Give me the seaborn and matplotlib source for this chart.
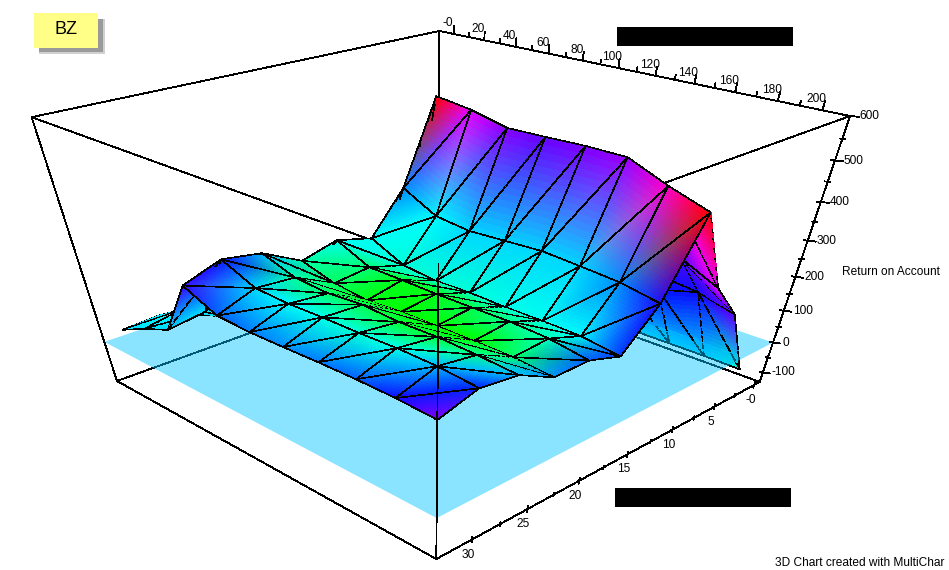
import numpy as np
import matplotlib
matplotlib.use("Agg")
import matplotlib.pyplot as plt
import matplotlib.tri as mtri
import seaborn as sns
from matplotlib.patches import Rectangle
from mpl_toolkits.mplot3d import proj3d
from mpl_toolkits.mplot3d.art3d import Poly3DCollection

# %% data
x_nodes = [12, 32, 52, 72, 92, 112, 132, 152, 172, 192, 212]
y_nodes = [33, 30, 27, 24, 21, 18, 15, 12, 9, 6, 3]

# Return on Account, one row per y node
z_rows = [
    [82, 124, 160, 317, 276, 272, 274, 277, 278, 277, 271],
    [88, 142, 174, 350, 311, 307, 310, 310, 313, 311, 302],
    [80, 90, 110, 334, 304, 298, 305, 299, 301, 297, 290],
    [80, 90, 110, 282, 255, 244, 250, 251, 251, 250, 241],
    [80, 90, 110, 306, 265, 264, 262, 262, 263, 258, 242],
    [80, 90, 110, 281, 238, 228, 230, 227, 227, 225, 211],
    [80, 90, 110, 387, 341, 331, 336, 341, 335, 328, 310],
    [80, 90, 110, 588, 577, 557, 559, 562, 561, 524, 493],
    [60, 80, 100, 260, 260, 260, 260, 260, 270, 323, 279],
    [40, 60, 80, 160, 160, 160, 160, 160, 170, 198, 171],
    [-35, -35, -35, -35, -35, -35, -35, -35, -35, -35, -37],
]

# colour of each node, position in the palette below
level_rows = [
    [.42, .40, .42, .68, .55, .52, .50, .52, .55, .64, .75],
    [.40, .38, .40, .64, .42, .38, .33, .30, .33, .45, .60],
    [.42, .42, .45, .45, .20, .10, .08, .05, .05, .15, .45],
    [.45, .45, .45, .20, .10, .02, .00, .00, .00, .10, .50],
    [.45, .45, .45, .35, .12, .03, .02, .08, .15, .25, .55],
    [.45, .45, .45, .35, .30, .30, .30, .33, .35, .38, .58],
    [.45, .45, .45, .50, .38, .42, .42, .42, .42, .50, .65],
    [.70, .70, .80, 1.0, .85, .76, .73, .75, .78, .90, 1.0],
    [.65, .65, .65, .65, .65, .65, .65, .65, .66, .70, .85],
    [.62, .62, .62, .62, .62, .62, .62, .62, .62, .64, .72],
    [.42, .42, .42, .42, .42, .42, .42, .42, .42, .42, .30],
]
palette_stops = ['#00ff00', '#00ff80', '#00ffc0', '#00ffff', '#0090ff',
                 '#0010ff', '#7a00ff', '#ff00ff', '#ff0000']

x_lim = (-10, 212)
y_lim = (-0.7, 33)
z_lim = (-133, 600)
x_ticks = list(range(0, 201, 20))
y_ticks = list(range(0, 31, 5))
z_ticks = list(range(-100, 601, 100))
x_labels = ['-0'] + [str(v) for v in x_ticks[1:]]
y_labels = ['-0'] + [str(v) for v in y_ticks[1:]]
z_labels = [str(v) for v in z_ticks]

# where the box corners sit in the image, the chart's camera is not a plain elev/azim one
corner_pixels = {
    (0, 0, 1): (440, 30), (1, 0, 1): (850, 117), (0, 1, 1): (32, 117), (1, 1, 1): (437, 265),
    (0, 0, 0): (437, 267), (1, 0, 0): (760, 380), (0, 1, 0): (117, 380), (1, 1, 0): (437, 560),
}

# %% figure
sns.set_theme(style="white")
plt.rcParams['font.family'] = ['Liberation Sans', 'DejaVu Sans']
plt.rcParams['text.color'] = 'black'
FS = 8.6
W, H = 949, 570

fig = plt.figure(figsize=(W / 100, H / 100), dpi=100)
ax = fig.add_axes([-25 / W, -215 / H, 1000 / W, 1000 / H], projection='3d', computed_zorder=False)
ax.set_axis_off()
ax.apply_aspect()

# camera: fit a projective matrix on the 8 box corners
rows = []
for (a, b, c), (px, py) in corner_pixels.items():
    x, y, z = x_lim[a], y_lim[b], z_lim[c]
    u, v = ax.transData.inverted().transform((px, H - py))
    rows.append([x, y, z, 1, 0, 0, 0, 0, -u * x, -u * y, -u * z, -u])
    rows.append([0, 0, 0, 0, x, y, z, 1, -v * x, -v * y, -v * z, -v])
P = np.linalg.svd(np.array(rows, float))[2][-1].reshape(3, 4)
P = P / (P[2] @ [100, 16, 230, 1])
M = np.vstack([P[:2], [0, 0, 0, -1], P[2]])  # third row gives depth, far = large
ax.get_proj = lambda: M
ax.M = M
cam = np.linalg.svd(P)[2][-1]
cam = cam[:3] / cam[3]

# %% surface, colours run linearly between nodes like the original
cmap = sns.blend_palette(palette_stops, as_cmap=True)
xx, yy = np.meshgrid(x_nodes, y_nodes)
zz = np.array(z_rows, float)
rgb = cmap(np.array(level_rows))[:, :, :3]
nx, ny = len(x_nodes), len(y_nodes)
triangles = []
for j in range(ny - 1):
    for i in range(nx - 1):
        n = j * nx + i
        triangles.append([n, n + 1, n + nx + 1])
        triangles.append([n, n + nx + 1, n + nx])
tri = mtri.Triangulation(xx.ravel(), yy.ravel(), np.array(triangles))
refiner = mtri.UniformTriRefiner(tri)


def refine(values):
    interp = mtri.LinearTriInterpolator(tri, values)
    return refiner.refine_field(values, triinterpolator=interp, subdiv=4)


fine, fine_z = refine(zz.ravel())
fine_rgb = np.column_stack([refine(rgb[:, :, k].ravel())[1] for k in range(3)])
pts = np.column_stack([fine.x, fine.y, fine_z])
faces = pts[fine.triangles]
face_rgb = fine_rgb[fine.triangles].mean(axis=1).clip(0, 1)
face_rgba = np.column_stack([face_rgb, np.ones(len(face_rgb))])

# mesh lines go in the same collection as thin slivers, pulled a bit towards the camera
# along the view ray so they sort in front of their own faces but stay hidden behind the ridge
node_pts = np.column_stack([xx.ravel(), yy.ravel(), zz.ravel()])
slivers = []
for a, b in tri.edges:
    pa, pb = node_pts[a], node_pts[b]
    if min(pa[1], pb[1]) < 12 and max(pa[0], pb[0]) <= 152:
        continue  # back of the ridge, never in view
    ts = np.linspace(0, 1, 9)
    seg = pa + np.outer(ts, pb - pa)
    seg = seg + 0.006 * (cam - seg)
    for k in range(8):
        slivers.append([seg[k], seg[k + 1], seg[k]])
slivers = np.array(slivers)
black = np.tile([0, 0, 0, 1.0], (len(slivers), 1))

all_faces = np.concatenate([faces, slivers])
all_rgba = np.concatenate([face_rgba, black])
under = all_faces[:, :, 2].mean(axis=1) < 30  # part seen through the floor plane


def add_surface(mask, zorder):
    poly = Poly3DCollection(all_faces[mask], facecolors=all_rgba[mask], edgecolors=all_rgba[mask],
                            linewidths=0.45, antialiased=False, zorder=zorder)
    ax.add_collection3d(poly, autolim=False)


def box_line(p, q, zorder=1):
    ax.plot([p[0], q[0]], [p[1], q[1]], [p[2], q[2]], color='black', lw=0.6, zorder=zorder,
            antialiased=False)


x0, x1 = x_lim
y0, y1 = y_lim
z0, z1 = z_lim

# box edges behind the surface
box_line((x0, y0, z1), (x1, y0, z1))
box_line((x0, y0, z1), (x0, y1, z1))
box_line((x1, y0, z1), (x1, y1, z1))
box_line((x0, y1, z1), (x1, y1, z1))
box_line((x0, y0, z1), (x0, y0, z0))
box_line((x0, y0, z0), (x1, y0, z0))
box_line((x0, y0, z0), (x0, y1, z0))
box_line((x0, y1, z1), (x0, y1, z0))
box_line((x1, y0, z1), (x1, y0, z0), zorder=5)
box_line((x1, y0, z0), (x1, y1, z0), zorder=5)
box_line((x0, y1, z0), (x1, y1, z0), zorder=5)

add_surface(under, 2)
plane = Poly3DCollection([[(x0, y0, 0), (x1, y0, 0), (x1, y1, 0), (x0, y1, 0)]],
                         facecolors=[(0, 194 / 255, 1, 0.46)], edgecolors='none', zorder=3)
ax.add_collection3d(plane, autolim=False)
add_surface(~under, 4)
box_line((x1, y1, z1), (x1, y1, z0), zorder=6)  # front post runs over the surface


# %% ticks and labels
def label_at(x, y, z, text, dx, dy, ha='center'):
    vx, vy, _ = proj3d.proj_transform(x, y, z, M)
    ax.annotate(text, xy=(vx, vy), xytext=(dx, dy), textcoords='offset pixels', ha=ha, va='center',
                fontsize=FS, color='black', annotation_clip=False, zorder=7)


for v, s in zip(x_ticks, x_labels):
    box_line((v, y0, z1), (v, y0, z1 + 21), zorder=5)
    if v < 200:
        box_line((v + 10, y0, z1), (v + 10, y0, z1 + 11), zorder=5)
    label_at(v, y0, z1, s, -6, 11)
for v, s in zip(y_ticks, y_labels):
    box_line((x1, v, z0 - 10), (x1, v, z0 + 10), zorder=5)
    if v < 30:
        box_line((x1, v + 2.5, z0 - 6), (x1, v + 2.5, z0 + 6), zorder=5)
    label_at(x1, v, z0, s, -4, -15)
for v, s in zip(z_ticks, z_labels):
    box_line((x1 - 1.5, y0 + 0.1, v), (x1 + 3, y0 - 0.22, v), zorder=5)
    if v < 600:
        box_line((x1 - 1, y0 + 0.07, v + 50), (x1 + 1, y0 - 0.07, v + 50), zorder=5)
    label_at(x1, y0, v, s, 9, 0, ha='left')

fig.text(842 / W, 1 - 272 / H, 'Return on Account', fontsize=FS, ha='left', va='center')
fig.text(775 / W, 1 - 563 / H, '3D Chart created with MultiChar', fontsize=FS, ha='left', va='center')


# %% name tag and the two blacked out boxes
def fig_rect(left, top, right, bottom, **kw):
    fig.add_artist(Rectangle((left / W, 1 - bottom / H), (right - left) / W, (bottom - top) / H,
                             transform=fig.transFigure, linewidth=0, **kw))


fig_rect(39, 19, 105, 54, color='#d0d0d0', zorder=3)
fig_rect(39, 19, 103, 52, color='#9a9a9a', zorder=3)
fig_rect(34, 13, 98, 48, color='#ffff88', zorder=4)
fig.text(66 / W, 1 - 30 / H, 'BZ', fontsize=13, ha='center', va='center', zorder=5)
fig_rect(617, 27, 793, 46, color='black', zorder=3)
fig_rect(615, 488, 791, 507, color='black', zorder=3)

fig.savefig('out.png', dpi=100)
